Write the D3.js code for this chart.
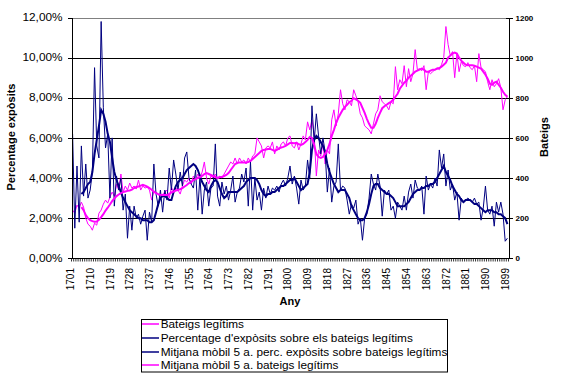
<!DOCTYPE html>
<html><head><meta charset="utf-8">
<script src="https://cdn.jsdelivr.net/npm/d3@7"></script>
<style>
body{margin:0;background:#fff}
text{font-family:Arial,"Liberation Sans",sans-serif}
</style>
</head><body>
<svg id="c" width="568" height="384"></svg>
<script>
// ---------- DATA ----------
const years = d3.range(1701, 1900);
const tickYears = years.filter((y, i) => i % 9 === 0);
const pctTicks = [0, 2, 4, 6, 8, 10, 12];
const batTicks = [0, 200, 400, 600, 800, 1000, 1200];
const seriesNames = [
  "Bateigs legítims",
  "Percentage d'expòsits sobre els bateigs legítims",
  "Mitjana mòbil 5 a. perc. expòsits sobre bateigs legítims",
  "Mitjana mòbil 5 a. bateigs legítims"
];

// Bateigs legítims (right axis)
const bateigs = [
  240,225,265,250,280,255,200,170,160,140,
  175,165,225,240,270,290,275,305,330,310,
  370,340,420,330,360,340,375,350,360,345,
  390,340,360,350,355,340,290,335,330,320,
  300,320,330,340,300,355,330,350,340,320,
  360,390,380,400,370,410,390,420,400,430,
  480,400,370,410,400,420,395,410,400,420,
  440,460,480,470,500,470,500,480,490,470,
  500,480,510,520,600,580,560,500,550,560,
  550,580,520,560,540,570,580,560,600,610,
  560,550,580,540,570,610,590,680,640,690,
  620,410,540,510,570,470,540,520,690,740,
  660,720,840,770,740,790,780,760,840,810,
  780,720,700,660,650,640,620,670,720,740,
  810,780,770,760,740,780,770,955,840,890,
  870,960,855,945,880,920,1040,940,945,935,
  960,840,930,920,930,940,950,940,965,1000,
  1155,1065,1010,1030,900,1020,930,980,960,955,
  975,950,940,960,880,1020,950,940,930,880,
  840,890,855,870,895,850,740,790,805
];

// Percentage d'expòsits (left axis, %)
const percExp = [
  6.2,1.5,4.6,1.8,5.6,3.1,4.7,3.0,3.4,4.3,
  9.5,5.6,5.0,11.8,7.5,5.5,6.2,3.0,6.0,2.6,
  4.1,3.4,4.0,2.4,3.2,1.0,2.6,1.4,2.6,2.0,
  2.2,1.7,2.1,2.4,0.9,2.3,1.8,4.7,3.2,2.6,
  3.4,2.3,3.4,2.9,4.5,3.4,4.9,4.2,3.4,4.3,
  3.6,5.0,5.3,4.0,3.7,3.5,4.4,2.4,4.1,2.2,
  3.4,3.8,2.6,3.5,3.6,5.7,3.1,2.6,3.8,3.2,
  3.6,2.9,3.4,4.1,2.8,3.3,3.5,4.2,3.8,4.5,
  2.6,4.8,2.4,4.0,2.9,3.3,2.4,3.5,3.0,3.6,
  3.2,3.5,3.4,3.6,3.3,3.7,3.9,3.6,4.0,4.6,
  3.7,4.1,3.5,2.7,3.9,3.4,3.6,4.9,4.0,7.6,
  5.8,7.2,6.1,5.2,6.0,5.3,3.3,4.5,2.8,3.6,
  3.8,5.7,3.4,3.6,3.5,2.9,2.2,2.7,2.5,2.9,
  1.7,2.0,0.9,2.0,2.2,3.0,4.2,3.7,3.4,4.2,
  3.6,2.1,3.4,3.2,3.4,2.4,2.6,2.0,2.8,2.6,
  2.4,3.1,2.4,3.3,3.7,3.0,3.9,3.5,3.4,3.6,
  2.2,4.1,3.4,3.7,3.5,4.0,3.6,5.4,4.5,5.2,
  3.6,4.4,3.4,3.7,2.9,3.3,1.9,3.0,2.8,2.9,
  3.0,2.9,2.8,3.0,2.7,2.8,1.9,2.5,3.6,2.4,
  2.2,2.6,1.6,2.8,2.3,2.8,2.2,0.85,1.0
];

// Mitjana mòbil 5 a. perc. expòsits
const percMA = [
  null,null,null,null,3.2,3.3,3.5,3.7,3.8,4.3,
  5.2,5.9,6.6,7.4,7.2,6.8,6.2,5.8,5.0,4.3,
  3.9,3.6,3.3,3.0,2.8,2.6,2.4,2.3,2.2,2.1,
  2.0,2.0,1.9,1.9,1.9,1.8,1.8,1.9,2.3,2.7,
  3.0,3.1,3.1,3.0,2.9,2.9,3.3,3.6,3.8,3.9,
  4.0,4.2,4.4,4.5,4.6,4.7,4.6,4.4,4.1,3.8,
  3.6,3.4,3.3,3.6,3.8,3.9,3.8,3.5,3.2,3.0,
  3.1,3.3,3.3,3.3,3.3,3.3,3.4,3.5,3.6,3.8,
  3.9,4.0,4.0,4.0,3.9,3.7,3.4,3.2,3.1,3.2,
  3.2,3.3,3.3,3.4,3.5,3.6,3.6,3.7,3.8,3.9,
  3.9,4.0,3.8,3.6,3.4,3.5,3.6,3.7,4.3,5.4,
  5.9,6.1,6.0,5.8,5.6,5.3,4.7,4.3,4.0,3.7,
  3.5,3.3,3.4,3.4,3.4,3.2,3.0,2.6,2.4,2.2,
  2.0,1.9,1.9,2.0,2.3,2.7,3.2,3.6,3.7,3.7,
  3.5,3.4,3.3,3.2,3.2,3.1,3.0,2.8,2.6,2.6,
  2.6,2.6,2.7,2.8,3.0,3.2,3.3,3.4,3.4,3.5,
  3.5,3.6,3.6,3.7,3.7,3.8,4.0,4.2,4.4,4.6,
  4.3,4.1,3.9,3.6,3.4,3.2,3.1,2.9,2.8,2.9,
  2.9,2.9,2.8,2.7,2.7,2.6,2.5,2.4,2.3,2.4,
  2.4,2.4,2.3,2.3,2.2,2.2,2.1,2.0,1.7
];

// Mitjana mòbil 5 a. bateigs
const batMA = [
  null,null,null,null,255,240,215,200,190,185,
  182,183,192,205,220,238,252,268,285,298,
  310,318,325,330,333,336,338,342,350,355,
  358,362,366,362,357,350,342,332,325,320,
  316,315,316,316,320,328,333,338,340,345,
  350,358,365,375,380,390,395,400,405,410,
  420,425,420,415,410,405,400,405,405,410,
  415,425,440,455,470,475,478,478,478,478,
  480,485,495,505,515,525,535,540,542,545,
  545,540,535,540,548,552,555,560,568,575,
  575,573,575,568,565,570,580,590,605,600,
  565,520,505,500,505,520,540,570,610,640,
  675,700,720,740,755,765,778,785,798,792,
  785,775,750,725,695,670,650,650,670,700,
  725,748,758,765,773,780,790,805,820,845,
  860,875,885,900,910,920,930,935,940,945,
  940,930,930,935,940,940,945,948,955,965,
  975,1000,1010,1020,1025,1020,1000,985,975,965,
  962,962,962,960,955,950,945,930,915,895,
  870,865,875,880,865,850,830,815,805
];

// ---------- CHART ----------
const PINK = "#ff00ff", NAVY = "#000080";
const STRETCH = 1.18;
const svg = d3.select("#c");
const P = {l: 71.5, r: 508.5, t: 17.5, b: 258.3};

const x = d3.scaleBand().domain(years).range([P.l, P.r]);
const cx = yr => x(yr) + x.bandwidth() / 2;
const yL = d3.scaleLinear().domain([0, 12]).range([P.b, P.t]);
const yR = d3.scaleLinear().domain([0, 1200]).range([P.b, P.t]);

function stretch(sel, k) {
  sel.each(function () {
    const w = this.getComputedTextLength();
    d3.select(this).attr("textLength", w * k).attr("lengthAdjust", "spacingAndGlyphs");
  });
}

// gridlines
svg.append("g").selectAll("line").data(pctTicks.filter(v => v > 0)).join("line")
  .attr("x1", P.l).attr("x2", P.r)
  .attr("y1", d => Math.round(yL(d)) + 0.5).attr("y2", d => Math.round(yL(d)) + 0.5)
  .attr("stroke", d => d === 12 ? "#808080" : "#000").attr("stroke-width", 1);

// series lines
const lineL = d3.line().defined(d => d != null).x((d, i) => cx(years[i])).y(d => yL(d));
const lineR = d3.line().defined(d => d != null).x((d, i) => cx(years[i])).y(d => yR(d));

svg.append("path").datum(bateigs).attr("d", lineR).attr("fill", "none")
  .attr("stroke", PINK).attr("stroke-width", 1);
svg.append("path").datum(percExp).attr("d", lineL).attr("fill", "none")
  .attr("stroke", NAVY).attr("stroke-width", 1);
svg.append("path").datum(percMA).attr("d", lineL).attr("fill", "none")
  .attr("stroke", NAVY).attr("stroke-width", 2);
svg.append("path").datum(batMA).attr("d", lineR).attr("fill", "none")
  .attr("stroke", PINK).attr("stroke-width", 2);

// left axis
const fmtPct = v => v.toFixed(2).replace(".", ",") + "%";
const gL = svg.append("g").attr("transform", `translate(${P.l},0)`)
  .call(d3.axisLeft(yL).tickValues(pctTicks).tickFormat(fmtPct).tickSize(4).tickSizeOuter(0).tickPadding(5));
gL.select(".domain").attr("stroke", "#000").attr("shape-rendering", "crispEdges");
gL.selectAll(".tick line").attr("stroke", "#000").attr("shape-rendering", "crispEdges");
gL.selectAll(".tick text").attr("font-size", 10).attr("fill", "#000")
  .attr("font-family", "Arial, 'Liberation Sans', sans-serif").call(stretch, STRETCH);

// right axis
const gR = svg.append("g").attr("transform", `translate(${P.r},0)`)
  .call(d3.axisRight(yR).tickValues(batTicks).tickFormat(d3.format("d")).tickSize(4).tickSizeOuter(0).tickPadding(3));
gR.select(".domain").attr("stroke", "#000").attr("shape-rendering", "crispEdges");
gR.selectAll(".tick line").attr("x1", -3).attr("x2", 4).attr("stroke", "#000").attr("shape-rendering", "crispEdges");
gR.selectAll(".tick text").attr("x", 7).attr("font-size", 8).attr("font-weight", "bold")
  .attr("fill", "#000").attr("font-family", "Arial, 'Liberation Sans', sans-serif");

// bottom axis (category axis)
svg.append("line").attr("x1", P.l).attr("x2", P.r).attr("y1", Math.round(P.b) + 0.5).attr("y2", Math.round(P.b) + 0.5)
  .attr("stroke", "#000");
const bounds = d3.range(years.length + 1).map(k => P.l + k * x.step());
svg.append("g").selectAll("line").data(bounds).join("line")
  .attr("x1", d => d).attr("x2", d => d)
  .attr("y1", Math.round(P.b)).attr("y2", Math.round(P.b) + 3.5)
  .attr("stroke", "#000").attr("stroke-width", 0.8);

svg.append("g").selectAll("text").data(tickYears).join("text")
  .attr("transform", d => `translate(${cx(d) + 1.4},268) rotate(-90)`)
  .attr("text-anchor", "end").attr("font-size", 10).attr("fill", "#000")
  .text(d => d);

// axis titles
svg.append("text").attr("transform", `translate(15,137) rotate(-90)`)
  .attr("text-anchor", "middle").attr("font-size", 11).attr("font-weight", "bold")
  .text("Percentage expòsits");
svg.append("text").attr("transform", `translate(547.5,137) rotate(-90)`)
  .attr("text-anchor", "middle").attr("font-size", 11).attr("font-weight", "bold")
  .text("Bateigs");
svg.append("text").attr("x", 290).attr("y", 305)
  .attr("text-anchor", "middle").attr("font-size", 11).attr("font-weight", "bold")
  .text("Any");

// legend
const leg = svg.append("g");
leg.append("rect").attr("x", 141.5).attr("y", 319.5).attr("width", 306).attr("height", 52.5)
  .attr("fill", "#fff").attr("stroke", "#000").attr("stroke-width", 1);
const legColors = [PINK, NAVY, NAVY, PINK];
const legY = [324, 338, 352, 365];
seriesNames.forEach((name, i) => {
  leg.append("line").attr("x1", 142).attr("x2", 159).attr("y1", legY[i]).attr("y2", legY[i])
    .attr("stroke", legColors[i]).attr("stroke-width", 1.5);
  leg.append("text").attr("x", 160.7).attr("y", legY[i] + 3.6)
    .attr("font-size", 10).attr("fill", "#000").text(name).call(stretch, STRETCH);
});
</script>
</body></html>
